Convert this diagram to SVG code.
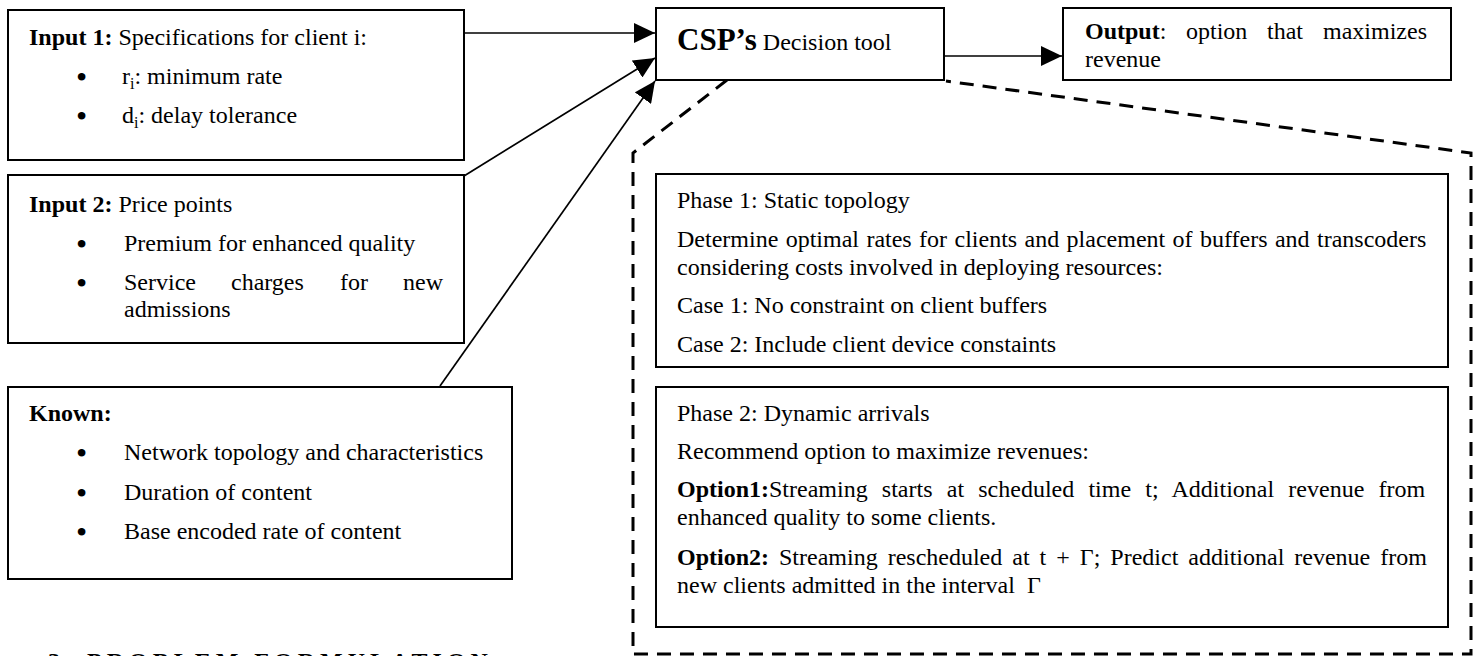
<svg xmlns="http://www.w3.org/2000/svg" width="1481" height="656" viewBox="0 0 1481 656">
<style>
text{font-family:"Liberation Serif","Times New Roman",serif;font-size:24px;fill:#000}
.b{font-weight:bold}
.bul{font-size:32px}
.box{fill:#fff;stroke:#000;stroke-width:2}
.con{fill:none;stroke:#000;stroke-width:1.7}
.dash{fill:none;stroke:#000;stroke-width:3;stroke-dasharray:14 9}
.sub{font-size:16px}
</style>
<defs>
<marker id="ah" viewBox="0 0 21 20" refX="21" refY="10" markerWidth="21" markerHeight="20" markerUnits="userSpaceOnUse" orient="auto">
<path d="M0,0 L21,10 L0,20 z" fill="#000"/>
</marker>
</defs>
<rect width="1481" height="656" fill="#fff"/>

<g id="connectors">
<line class="con" x1="464" y1="33" x2="655" y2="33" marker-end="url(#ah)"/>
<line class="con" x1="464" y1="176" x2="655" y2="58" marker-end="url(#ah)"/>
<line class="con" x1="440" y1="386" x2="655" y2="81" marker-end="url(#ah)"/>
<line class="con" x1="944" y1="56" x2="1062" y2="56" marker-end="url(#ah)"/>
<path class="dash" d="M727,80 L633,153 L633,654 L1471,654 L1471,153 L946,81"/>
</g>

<g id="input1">
<rect class="box" x="8" y="10" width="456" height="150"/>
<text x="29" y="45"><tspan class="b">Input 1:</tspan> Specifications for client i:</text>
<text class="bul" x="76" y="88">•</text>
<text x="122" y="84">r<tspan class="sub" dy="5">i</tspan><tspan dy="-5">: minimum rate</tspan></text>
<text class="bul" x="76" y="127">•</text>
<text x="122" y="123">d<tspan class="sub" dy="5">i</tspan><tspan dy="-5">: delay tolerance</tspan></text>
</g>

<g id="input2">
<rect class="box" x="8" y="175" width="456" height="168"/>
<text x="29" y="212"><tspan class="b">Input 2:</tspan> Price points</text>
<text class="bul" x="76" y="255">•</text>
<text x="124" y="251">Premium for enhanced quality</text>
<text class="bul" x="76" y="294">•</text>
<text x="124" y="290">Service</text>
<text x="231" y="290">charges</text>
<text x="340" y="290">for</text>
<text x="403" y="290">new</text>
<text x="124" y="317">admissions</text>
</g>

<g id="known">
<rect class="box" x="8" y="387" width="504" height="192"/>
<text class="b" x="29" y="421">Known:</text>
<text class="bul" x="76" y="464">•</text>
<text x="124" y="460">Network topology and characteristics</text>
<text class="bul" x="76" y="504">•</text>
<text x="124" y="500">Duration of content</text>
<text class="bul" x="76" y="543">•</text>
<text x="124" y="539">Base encoded rate of content</text>
</g>

<g id="csp">
<rect class="box" x="656" y="8" width="288" height="72"/>
<text x="677" y="50"><tspan class="b" style="font-size:31px">CSP’s</tspan> Decision tool</text>
</g>

<g id="output">
<rect class="box" x="1063" y="8" width="388" height="72"/>
<text x="1085" y="39"><tspan class="b">Output</tspan>:</text>
<text x="1186" y="39">option</text>
<text x="1267" y="39">that</text>
<text x="1323" y="39">maximizes</text>
<text x="1085" y="67">revenue</text>
</g>

<g id="phase1">
<rect class="box" x="656" y="174" width="792" height="193"/>
<text x="677" y="208">Phase 1: Static topology</text>
<text x="677" y="247" word-spacing="1.4">Determine optimal rates for clients and placement of buffers and transcoders</text>
<text x="677" y="275">considering costs involved in deploying resources:</text>
<text x="677" y="313">Case 1: No constraint on client buffers</text>
<text x="677" y="352">Case 2: Include client device constaints</text>
</g>

<g id="phase2">
<rect class="box" x="656" y="387" width="792" height="240"/>
<text x="677" y="421">Phase 2: Dynamic arrivals</text>
<text x="677" y="459">Recommend option to maximize revenues:</text>
<text x="677" y="497" word-spacing="8.2"><tspan class="b">Option1:</tspan>Streaming starts at scheduled time t; Additional revenue from</text>
<text x="677" y="525">enhanced quality to some clients.</text>
<text x="677" y="565" word-spacing="4"><tspan class="b">Option2:</tspan> Streaming rescheduled at t + Γ; Predict additional revenue from</text>
<text x="677" y="593">new clients admitted in the interval&#160; Γ</text>
</g>

<text class="b" x="48" y="669" letter-spacing="5">3. PROBLEM FORMULATION</text>
</svg>
